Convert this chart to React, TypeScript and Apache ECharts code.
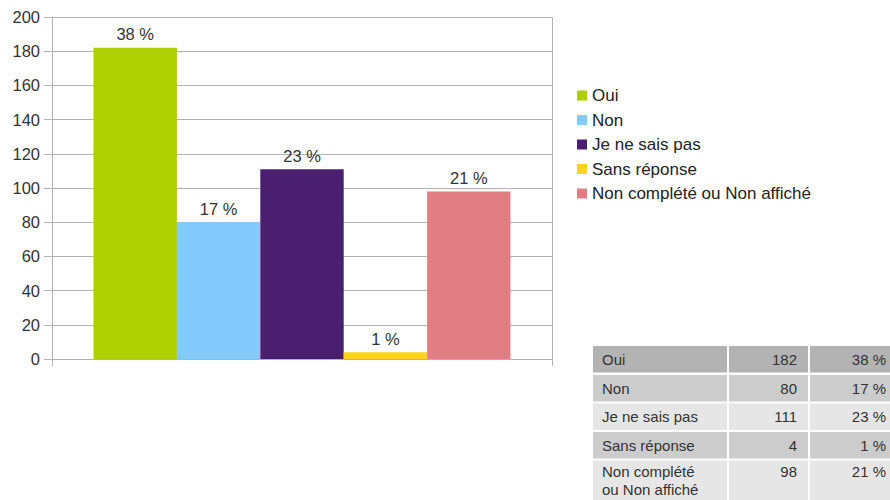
import React, { useEffect, useRef } from "react";
import * as echarts from "echarts";

const seriesNames = ["Oui", "Non", "Je ne sais pas", "Sans réponse", "Non complété ou Non affiché"];
const counts = [182, 80, 111, 4, 98];
const percents = ["38 %", "17 %", "23 %", "1 %", "21 %"];
const colors = ["#aecf00", "#83caff", "#4b1f6f", "#ffd320", "#e37d84"];
const tableLabels = ["Oui", "Non", "Je ne sais pas", "Sans réponse", "Non complété\nou Non affiché"];
const yTicks = { min: 0, max: 200, interval: 20 };

const FONT = "'Liberation Sans', Arial, sans-serif";

export default function App() {
  const ref = useRef<HTMLDivElement>(null);
  useEffect(() => {
    if (!ref.current) return;
    const chart = echarts.init(ref.current, undefined, { renderer: "svg" });

    const rowTops = [346, 375, 403.5, 432, 460.5];
    const rowHeights = [26.5, 26.5, 26.5, 26.5, 45];
    const rowColors = ["#b3b3b3", "#cccccc", "#e6e6e6", "#cccccc", "#e6e6e6"];
    const cols = [
      { x: 593, w: 134 },
      { x: 729, w: 79 },
      { x: 810, w: 90 },
    ];
    const tableEls: any[] = [];
    rowTops.forEach((top, i) => {
      cols.forEach((c) => {
        tableEls.push({
          type: "rect",
          shape: { x: c.x, y: top, width: c.w, height: rowHeights[i] },
          style: { fill: rowColors[i] },
          silent: true,
        });
      });
      const isLast = i === rowTops.length - 1;
      const cy = isLast ? top + 10.5 : top + rowHeights[i] / 2;
      tableEls.push({
        type: "text",
        x: 602,
        y: isLast ? top + 1.5 : cy,
        style: {
          text: tableLabels[i],
          fill: "#333",
          font: `15px ${FONT}`,
          textAlign: "left",
          textVerticalAlign: isLast ? "top" : "middle",
          lineHeight: 18,
        },
      });
      tableEls.push({
        type: "text",
        x: 797,
        y: cy,
        style: {
          text: String(counts[i]),
          fill: "#333",
          font: `15px ${FONT}`,
          textAlign: "right",
          textVerticalAlign: "middle",
        },
      });
      tableEls.push({
        type: "text",
        x: 886,
        y: cy,
        style: {
          text: percents[i],
          fill: "#333",
          font: `15px ${FONT}`,
          textAlign: "right",
          textVerticalAlign: "middle",
        },
      });
    });

    chart.setOption({
      animation: false,
      textStyle: { fontFamily: FONT },
      grid: { left: 52, top: 17, width: 500, height: 342, containLabel: false },
      legend: {
        orient: "vertical",
        left: 572,
        top: 82,
        itemWidth: 10,
        itemHeight: 10,
        itemGap: 7.5,
        icon: "rect",
        textStyle: { fontSize: 17, color: "#222", fontFamily: FONT },
        data: seriesNames,
      },
      xAxis: {
        type: "category",
        data: [""],
        axisLine: { show: true, lineStyle: { color: "#b3b3b3" } },
        axisTick: { show: true, length: 7, lineStyle: { color: "#b3b3b3" } },
        axisLabel: { show: false },
        splitLine: { show: true, interval: 0, lineStyle: { color: "#b3b3b3" } },
      },
      yAxis: {
        type: "value",
        min: yTicks.min,
        max: yTicks.max,
        interval: yTicks.interval,
        axisLine: { show: true, lineStyle: { color: "#b3b3b3" } },
        axisTick: { show: true, length: 8, lineStyle: { color: "#b3b3b3" } },
        axisLabel: { margin: 12, fontSize: 16.5, color: "#333", fontFamily: FONT },
        splitLine: { show: true, lineStyle: { color: "#b3b3b3" } },
      },
      series: seriesNames.map((name, i) => ({
        name,
        type: "bar",
        data: [counts[i]],
        barGap: "0%",
        barCategoryGap: "16.6%",
        itemStyle: { color: colors[i] },
        label: {
          show: true,
          position: "top",
          distance: 5,
          formatter: () => percents[i],
          fontSize: 16.5,
          color: "#333",
          fontFamily: FONT,
        },
      })),
      graphic: tableEls,
    });
    return () => chart.dispose();
  }, []);
  return <div ref={ref} style={{ width: 890, height: 500, position: "absolute", left: 0, top: 0 }} />;
}
